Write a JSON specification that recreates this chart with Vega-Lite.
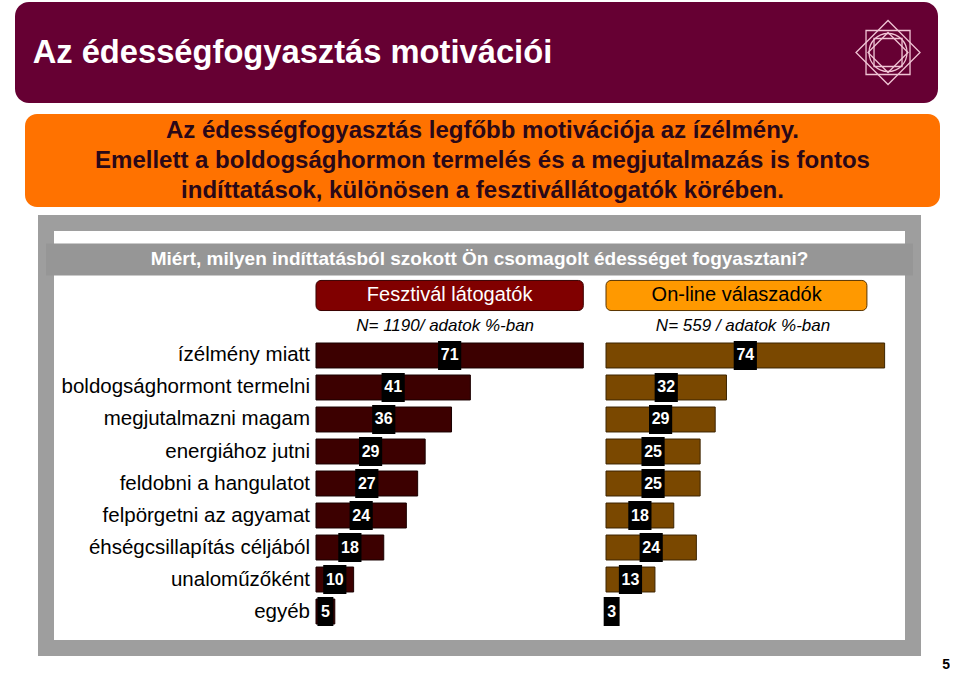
{
  "$schema": "https://vega.github.io/schema/vega-lite/v6.json",
  "background": "white",
  "padding": {"left": 0, "top": 2, "right": 0, "bottom": 0},
  "config": {"view": {"stroke": null}, "concat": {"spacing": 0}, "font": "Liberation Sans"},
  "title": {"text": "5", "orient": "bottom", "anchor": "end", "fontSize": 14, "fontWeight": "bold", "color": "black", "offset": 2, "dx": 10},
  "datasets": {
    "rows": [
      {"cat": "ízélmény miatt", "f": 71, "o": 74},
      {"cat": "boldogsághormont termelni", "f": 41, "o": 32},
      {"cat": "megjutalmazni magam", "f": 36, "o": 29},
      {"cat": "energiához jutni", "f": 29, "o": 25},
      {"cat": "feldobni a hangulatot", "f": 27, "o": 25},
      {"cat": "felpörgetni az agyamat", "f": 24, "o": 18},
      {"cat": "éhségcsillapítás céljából", "f": 18, "o": 24},
      {"cat": "unaloműzőként", "f": 10, "o": 13},
      {"cat": "egyéb", "f": 5, "o": 3}
    ],
    "groups": [
      {"key": "f", "g": "Fesztivál látogatók", "n": "N= 1190/ adatok %-ban"},
      {"key": "o", "g": "On-line válaszadók", "n": "N= 559 / adatok %-ban"}
    ],
    "question": [{"q": "Miért, milyen indíttatásból szokott Ön csomagolt édességet fogyasztani?"}]
  },
  "vconcat": [
    {
      "hconcat": [
        {"width": 15, "height": 1, "data": {"values": []}, "mark": "point", "encoding": {}},
        {
          "width": 923, "height": 101,
          "view": {"fill": "#660033", "cornerRadius": 14, "stroke": null},
          "data": {"values": [{"t": "Az édességfogyasztás motivációi"}]},
          "layer": [
            {
              "mark": {"type": "text", "align": "left", "baseline": "middle", "fontSize": 32.7, "fontWeight": "bold", "color": "white"},
              "encoding": {
                "x": {"datum": 0, "type": "quantitative", "scale": {"domain": [-0.0195, 1], "nice": false, "zero": false}, "axis": null},
                "text": {"field": "t"}
              }
            },
            {
              "mark": {"type": "point", "shape": "diamond", "size": 4096, "filled": false, "stroke": "#f0c4d4", "strokeWidth": 1.3, "opacity": 1},
              "encoding": {"x": {"datum": 0.9448, "type": "quantitative"}}
            },
            {
              "mark": {"type": "point", "shape": "square", "size": 1936, "filled": false, "stroke": "#f0c4d4", "strokeWidth": 1.3, "opacity": 1},
              "encoding": {"x": {"datum": 0.9448, "type": "quantitative"}}
            },
            {
              "mark": {"type": "point", "shape": "circle", "size": 1444, "filled": false, "stroke": "#f0c4d4", "strokeWidth": 1.3, "opacity": 1},
              "encoding": {"x": {"datum": 0.9448, "type": "quantitative"}}
            },
            {
              "mark": {"type": "point", "shape": "diamond", "size": 1600, "filled": false, "stroke": "#f0c4d4", "strokeWidth": 1.3, "opacity": 1},
              "encoding": {"x": {"datum": 0.9448, "type": "quantitative"}}
            },
            {
              "mark": {"type": "point", "shape": "square", "size": 784, "filled": false, "stroke": "#f0c4d4", "strokeWidth": 1.3, "opacity": 1},
              "encoding": {"x": {"datum": 0.9448, "type": "quantitative"}}
            }
          ]
        }
      ]
    },
    {"width": 1, "height": 11, "data": {"values": []}, "mark": "point", "encoding": {}},
    {
      "hconcat": [
        {"width": 25, "height": 1, "data": {"values": []}, "mark": "point", "encoding": {}},
        {
          "width": 915, "height": 93,
          "view": {"fill": "#ff7200", "cornerRadius": 12, "stroke": null},
          "data": {"values": [
            {"line": 1, "t": "Az édességfogyasztás legfőbb motivációja az ízélmény."},
            {"line": 2, "t": "Emellett a boldogsághormon termelés és a megjutalmazás is fontos"},
            {"line": 3, "t": "indíttatások, különösen a fesztivállátogatók körében."}
          ]},
          "mark": {"type": "text", "fontSize": 24, "fontWeight": "bold", "color": "#2a0818", "baseline": "middle"},
          "encoding": {
            "y": {"field": "line", "type": "ordinal", "scale": {"type": "point", "padding": 0.55}, "axis": null},
            "text": {"field": "t"}
          }
        }
      ]
    },
    {"width": 1, "height": 8, "data": {"values": []}, "mark": "point", "encoding": {}},
    {
      "hconcat": [
        {"width": 38, "height": 1, "data": {"values": []}, "mark": "point", "encoding": {}},
        {
          "width": 867, "height": 425,
          "view": {"fill": "white", "stroke": "#9e9e9e", "strokeWidth": 16},
          "resolve": {"scale": {"x": "independent"}},
          "layer": [
            {
              "data": {"name": "question"},
              "layer": [
                {
                  "mark": {"type": "rect", "color": "#969696"},
                  "encoding": {
                    "y": {"datum": "q", "type": "nominal", "axis": null,
                      "scale": {"domain": ["q", "grp", "n", "ízélmény miatt", "boldogsághormont termelni", "megjutalmazni magam", "energiához jutni", "feldobni a hangulatot", "felpörgetni az agyamat", "éhségcsillapítás céljából", "unaloműzőként", "egyéb"], "paddingInner": 0, "paddingOuter": 0.64}}
                  }
                },
                {
                  "mark": {"type": "text", "fontSize": 19, "fontWeight": "bold", "color": "white", "baseline": "middle"},
                  "encoding": {
                    "y": {"datum": "q", "type": "nominal"},
                    "text": {"field": "q"}
                  }
                }
              ]
            },
            {
              "layer": [
                {
                  "data": {"name": "groups"},
                  "transform": [{"filter": "datum.key == 'f'"}],
                  "mark": {"type": "bar", "color": "#800000", "stroke": "#3a0000", "strokeWidth": 1, "cornerRadius": 5, "height": {"band": 0.94}, "yOffset": 4},
                  "encoding": {
                    "x": {"datum": 0, "type": "quantitative", "scale": {"domain": [-71.71, 158.57], "nice": false, "zero": false}, "axis": null},
                    "x2": {"datum": 71},
                    "y": {"datum": "grp", "type": "nominal"}
                  }
                },
                {
                  "data": {"name": "groups"},
                  "transform": [{"filter": "datum.key == 'f'"}],
                  "mark": {"type": "text", "fontSize": 20, "color": "white", "baseline": "middle", "yOffset": 4},
                  "encoding": {
                    "x": {"datum": 35.5, "type": "quantitative"},
                    "y": {"datum": "grp", "type": "nominal"},
                    "text": {"field": "g"}
                  }
                },
                {
                  "data": {"name": "groups"},
                  "transform": [{"filter": "datum.key == 'f'"}],
                  "mark": {"type": "text", "fontSize": 17, "fontStyle": "italic", "color": "black", "baseline": "middle", "yOffset": 3},
                  "encoding": {
                    "x": {"datum": 34.3, "type": "quantitative"},
                    "y": {"datum": "n", "type": "nominal"},
                    "text": {"field": "n"}
                  }
                },
                {
                  "data": {"name": "rows"},
                  "mark": {"type": "text", "align": "right", "baseline": "middle", "dx": -6, "fontSize": 20.5, "color": "black"},
                  "encoding": {
                    "x": {"datum": 0, "type": "quantitative"},
                    "y": {"field": "cat", "type": "nominal"},
                    "text": {"field": "cat"}
                  }
                },
                {
                  "data": {"name": "rows"},
                  "mark": {"type": "bar", "color": "#3c0000", "stroke": "#1a0000", "strokeWidth": 1, "height": {"band": 0.78}},
                  "encoding": {
                    "x": {"field": "f", "type": "quantitative"},
                    "y": {"field": "cat", "type": "nominal"}
                  }
                },
                {
                  "data": {"name": "rows"},
                  "transform": [{"calculate": "datum.f / 2", "as": "mid"}, {"calculate": "datum.f < 10 ? 'a' : 'b'", "as": "nd"}],
                  "mark": {"type": "point", "filled": true, "color": "black", "opacity": 1, "size": 841},
                  "encoding": {
                    "x": {"field": "mid", "type": "quantitative"},
                    "y": {"field": "cat", "type": "nominal"},
                    "shape": {"field": "nd", "type": "nominal", "scale": {"domain": ["a", "b"], "range": ["M-0.55,-1H0.55V1H-0.55Z", "M-0.8,-1H0.8V1H-0.8Z"]}, "legend": null}
                  }
                },
                {
                  "data": {"name": "rows"},
                  "transform": [{"calculate": "datum.f / 2", "as": "mid"}],
                  "mark": {"type": "text", "color": "white", "fontWeight": "bold", "fontSize": 16, "baseline": "middle"},
                  "encoding": {
                    "x": {"field": "mid", "type": "quantitative"},
                    "y": {"field": "cat", "type": "nominal"},
                    "text": {"field": "f"}
                  }
                }
              ]
            },
            {
              "layer": [
                {
                  "data": {"name": "groups"},
                  "transform": [{"filter": "datum.key == 'o'"}],
                  "mark": {"type": "bar", "color": "#ff9900", "stroke": "#5a3500", "strokeWidth": 1, "cornerRadius": 5, "height": {"band": 0.94}, "yOffset": 4},
                  "encoding": {
                    "x": {"datum": 0, "type": "quantitative", "scale": {"domain": [-148.74, 81.54], "nice": false, "zero": false}, "axis": null},
                    "x2": {"datum": 69.3},
                    "y": {"datum": "grp", "type": "nominal"}
                  }
                },
                {
                  "data": {"name": "groups"},
                  "transform": [{"filter": "datum.key == 'o'"}],
                  "mark": {"type": "text", "fontSize": 20, "color": "black", "baseline": "middle", "yOffset": 4},
                  "encoding": {
                    "x": {"datum": 34.7, "type": "quantitative"},
                    "y": {"datum": "grp", "type": "nominal"},
                    "text": {"field": "g"}
                  }
                },
                {
                  "data": {"name": "groups"},
                  "transform": [{"filter": "datum.key == 'o'"}],
                  "mark": {"type": "text", "fontSize": 17, "fontStyle": "italic", "color": "black", "baseline": "middle", "yOffset": 3},
                  "encoding": {
                    "x": {"datum": 36.4, "type": "quantitative"},
                    "y": {"datum": "n", "type": "nominal"},
                    "text": {"field": "n"}
                  }
                },
                {
                  "data": {"name": "rows"},
                  "mark": {"type": "bar", "color": "#7a4800", "stroke": "#3d2400", "strokeWidth": 1, "height": {"band": 0.78}},
                  "encoding": {
                    "x": {"field": "o", "type": "quantitative"},
                    "y": {"field": "cat", "type": "nominal"}
                  }
                },
                {
                  "data": {"name": "rows"},
                  "transform": [{"calculate": "datum.o / 2", "as": "mid"}, {"calculate": "datum.o < 10 ? 'a' : 'b'", "as": "nd"}],
                  "mark": {"type": "point", "filled": true, "color": "black", "opacity": 1, "size": 841},
                  "encoding": {
                    "x": {"field": "mid", "type": "quantitative"},
                    "y": {"field": "cat", "type": "nominal"},
                    "shape": {"field": "nd", "type": "nominal", "legend": null}
                  }
                },
                {
                  "data": {"name": "rows"},
                  "transform": [{"calculate": "datum.o / 2", "as": "mid"}],
                  "mark": {"type": "text", "color": "white", "fontWeight": "bold", "fontSize": 16, "baseline": "middle"},
                  "encoding": {
                    "x": {"field": "mid", "type": "quantitative"},
                    "y": {"field": "cat", "type": "nominal"},
                    "text": {"field": "o"}
                  }
                }
              ]
            }
          ]
        }
      ]
    }
  ]
}
